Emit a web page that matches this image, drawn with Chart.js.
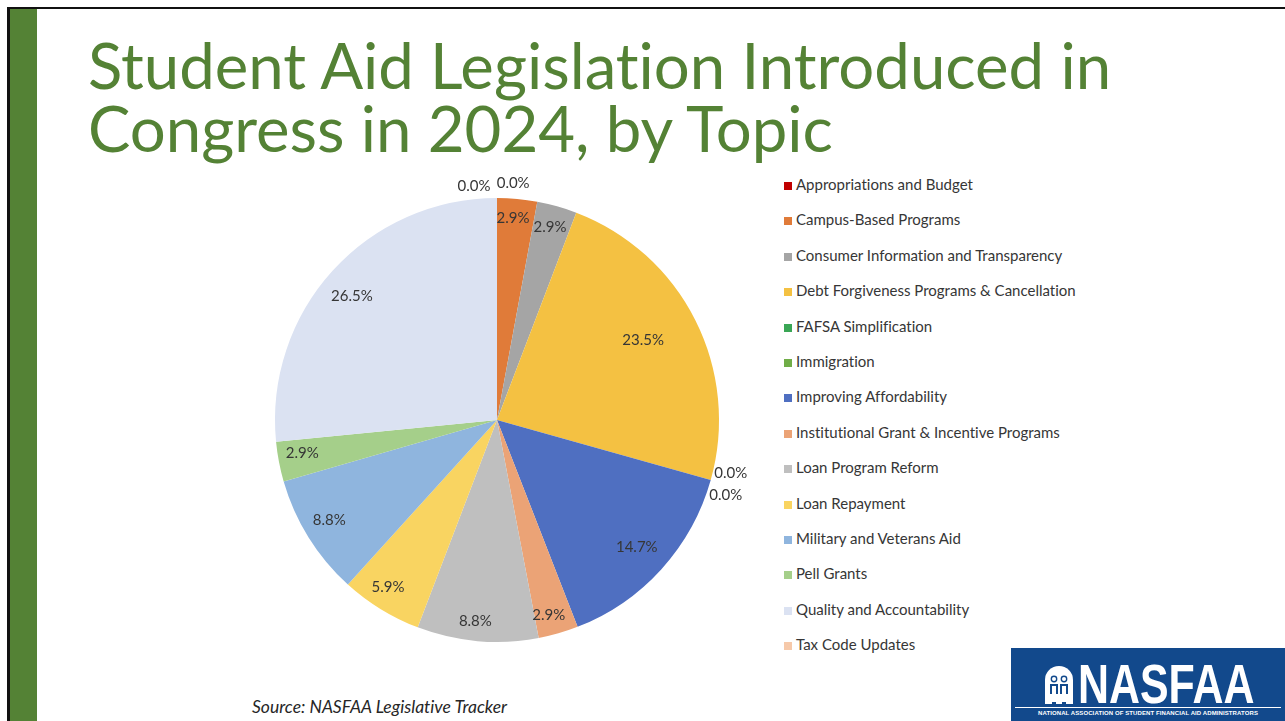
<!DOCTYPE html>
<html>
<head>
<meta charset="utf-8">
<title>Student Aid Legislation Introduced in Congress in 2024, by Topic</title>
<script src="https://cdn.jsdelivr.net/npm/chart.js@4"></script>
<style>
  html, body { margin: 0; padding: 0; background: #fff; }
  body { width: 1285px; height: 721px; position: relative; overflow: hidden; font-family: Lato, "Noto Sans", sans-serif;
         font-variant-ligatures: none; }
  .frame-top { position: absolute; left: 7px; top: 7px; width: 1278px; height: 2px; background: #111; }
  .frame-left { position: absolute; left: 7px; top: 7px; width: 3px; height: 714px; background: #111; }
  .side-bar { position: absolute; left: 10px; top: 9px; width: 27px; height: 712px; background: #548235; }
  h1 { position: absolute; left: 88px; top: 33px; margin: 0; font-family: Lato, sans-serif; font-weight: 400;
       font-size: 63.5px; line-height: 63px; color: #548235; white-space: nowrap; }
  #pieBox { position: absolute; left: 237px; top: 160px; width: 520px; height: 520px; }
  #legend { position: absolute; left: 784px; top: 0; }
  .item { position: absolute; left: 0; height: 20px; line-height: 20px; white-space: nowrap;
          font-size: 15px; color: #363636; }
  .item i { display: inline-block; width: 8px; height: 8px; margin-right: 4px; vertical-align: 0px; }
  .source { position: absolute; left: 252px; top: 696px; font-style: italic; font-size: 17.5px; color: #262626; }
  .logo { position: absolute; left: 1011px; top: 648px; width: 274px; height: 73px; background: #12498c; color: #fff; }
  .logo svg { position: absolute; left: 33px; top: 18px; }
  .logo .word { position: absolute; left: 67px; top: 9px; font-family: "Liberation Sans", Arial, sans-serif; font-weight: 700;
                font-size: 55px; line-height: 55px; transform: scaleX(0.78); transform-origin: 0 0; }
  .logo .rule { position: absolute; left: 4px; top: 59px; width: 266px; height: 1px; background: #fff; }
  .logo .sub { position: absolute; left: 4px; top: 61px; width: 266px; text-align: center; font-family: "Liberation Sans", Arial, sans-serif;
               font-weight: 700; font-size: 6px; line-height: 8px; white-space: nowrap; letter-spacing: 0.1px; }
</style>
</head>
<body>
<div class="frame-top"></div>
<div class="frame-left"></div>
<div class="side-bar"></div>

<h1>Student Aid Legislation Introduced in<br>Congress in 2024, by Topic</h1>

<div id="pieBox"><canvas id="pie" width="520" height="520"></canvas></div>
<div id="legend"></div>

<div class="source">Source: NASFAA Legislative Tracker</div>

<div class="logo">
  <svg width="30" height="38" viewBox="0 0 30 38">
    <path d="M1 38 V14 A14 14 0 0 1 29 14 V38 Z" fill="#fff"/>
    <circle cx="10" cy="13" r="3.4" fill="#12498c"/>
    <circle cx="20" cy="13" r="3.4" fill="#12498c"/>
    <path d="M6 18 h8 v10 h-2 v10 h-4 v-10 h-2 Z" fill="#12498c"/>
    <path d="M16 18 h8 v10 h-2 v10 h-4 v-10 h-2 Z" fill="#12498c"/>
    <circle cx="10" cy="13" r="2" fill="#fff"/>
    <circle cx="20" cy="13" r="2" fill="#fff"/>
    <path d="M8 20 h4 v16 h-4 Z M18 20 h4 v16 h-4 Z" fill="#fff"/>
  </svg>
  <div class="word">NASFAA</div>
  <div class="rule"></div>
  <div class="sub">NATIONAL ASSOCIATION OF STUDENT FINANCIAL AID ADMINISTRATORS</div>
</div>

<script>
// topics, in the order they go round the pie (clockwise from 12 o'clock)
const topics = [
  'Appropriations and Budget',
  'Campus-Based Programs',
  'Consumer Information and Transparency',
  'Debt Forgiveness Programs & Cancellation',
  'FAFSA Simplification',
  'Immigration',
  'Improving Affordability',
  'Institutional Grant & Incentive Programs',
  'Loan Program Reform',
  'Loan Repayment',
  'Military and Veterans Aid',
  'Pell Grants',
  'Quality and Accountability',
  'Tax Code Updates'
];

// share of bills per topic, percent
const shares = [0.0, 2.9, 2.9, 23.5, 0.0, 0.0, 14.7, 2.9, 8.8, 5.9, 8.8, 2.9, 26.5, 0.0];

const topicColors = [
  '#c00000', '#e07b39', '#a5a5a5', '#f4c142', '#3aa655', '#70ad47', '#4f6fc1',
  '#eba376', '#bfbfbf', '#f9d461', '#8fb5de', '#a5cf8a', '#dbe2f2', '#f6c9aa'
];

// legend on the right
const legendEl = document.getElementById('legend');
topics.forEach((t, i) => {
  const row = document.createElement('div');
  row.className = 'item';
  row.style.top = (174 + i * 35.4) + 'px';
  row.innerHTML = '<i style="background:' + topicColors[i] + '"></i>' + t;
  legendEl.appendChild(row);
});

// percent labels: radius as a fraction of the pie radius, plus a small angle nudge (degrees)
const pctLabels = {
  id: 'pctLabels',
  afterDatasetsDraw(chart, args, opts) {
    const ctx = chart.ctx;
    const meta = chart.getDatasetMeta(0);
    ctx.save();
    ctx.font = '15px Lato, sans-serif';
    ctx.fillStyle = '#363636';
    ctx.textAlign = 'center';
    ctx.textBaseline = 'middle';
    meta.data.forEach((arc, i) => {
      const p = arc.getProps(['x', 'y', 'startAngle', 'endAngle', 'outerRadius'], true);
      const mid = (p.startAngle + p.endAngle) / 2 + (opts.nudge[i] || 0) * Math.PI / 180;
      const r = p.outerRadius * opts.radius[i];
      const v = chart.data.datasets[0].data[i];
      ctx.fillText(v.toFixed(1) + '%', p.x + Math.cos(mid) * r, p.y + Math.sin(mid) * r);
    });
    ctx.restore();
  }
};

new Chart(document.getElementById('pie'), {
  type: 'pie',
  data: {
    labels: topics,
    datasets: [{
      data: shares,
      backgroundColor: topicColors,
      borderWidth: 0
    }]
  },
  options: {
    responsive: false,
    animation: false,
    layout: { padding: 38 },
    plugins: {
      legend: { display: false },
      tooltip: { enabled: false },
      pctLabels: {
        radius: [1.07, 0.91, 0.90, 0.75, 1.08, 1.085, 0.85, 0.91, 0.91, 0.90, 0.88, 0.89, 0.86, 1.06],
        nudge:  [3.9, -0.7, -0.3, -1.9, -2.9, 2.5, 0, 1.2, 1.1, 1.5, 1.1, 1.2, -1.7, -5.6]
      }
    }
  },
  plugins: [pctLabels]
});
</script>
</body>
</html>
